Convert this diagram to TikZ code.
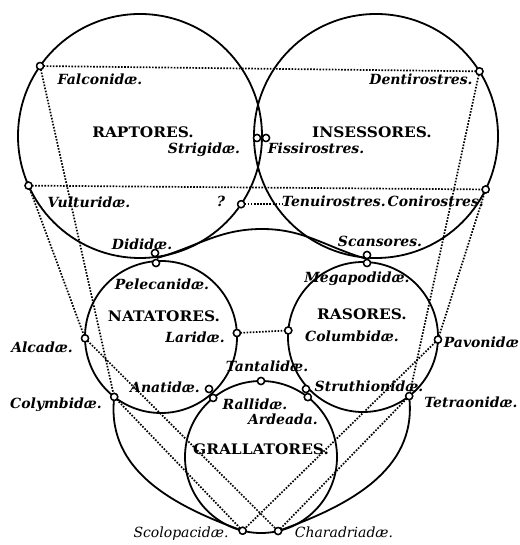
\documentclass[tikz,border=0pt]{standalone}
\usepackage{fontspec}
\setmainfont{DejaVu Serif}
\newfontfamily\capfont[FakeStretch=1.06]{DejaVu Serif}
\begin{document}
\begin{tikzpicture}[x=1pt,y=1pt,
  bigc/.style={draw, circle, line width=1.8pt, inner sep=0pt, outer sep=0pt},
  pt/.style={draw, circle, fill=white, line width=1.4pt, minimum size=7pt, inner sep=0pt, outer sep=0pt},
  lab/.style={font=\fontsize{14}{14}\selectfont\bfseries\itshape, inner sep=0pt, anchor=base},
  labl/.style={font=\fontsize{14}{14}\selectfont\itshape, inner sep=0pt, anchor=base},
  capl/.style={font=\fontsize{14.5}{14.5}\capfont\bfseries, inner sep=0pt, anchor=base},
  sline/.style={line width=1.8pt},
  dline/.style={line width=1.7pt, dash pattern=on 1.6pt off 1.5pt}]
\useasboundingbox (0,0) rectangle (519,545);
% big circles
\node[bigc, minimum size=244pt] (raptores) at (140,409) {};
\node[bigc, minimum size=244pt] (insessores) at (376,409) {};
\node[bigc, minimum size=152pt] (natatores) at (161,208) {};
\node[bigc, minimum size=150pt] (rasores) at (363,208) {};
\node[bigc, minimum size=152pt] (grallatores) at (261,88) {};
% point positions
\coordinate (archL) at (157,287);
\coordinate (archtop) at (262,316);
\coordinate (archR) at (367,286);
\coordinate (pFalc) at (raptores.145.5);
\coordinate (pVult) at (raptores.204.6);
\coordinate (pQ) at (raptores.-34);
\coordinate (pDent) at (insessores.32.4);
\coordinate (pConi) at (insessores.-26.2);
\coordinate (pAlca) at (natatores.181.5);
\coordinate (pLari) at (natatores.3.8);
\coordinate (pColy) at (natatores.232.3);
\coordinate (pColu) at (rasores.175.4);
\coordinate (pPavo) at (rasores.-2.3);
\coordinate (pTetr) at (rasores.-52.5);
\coordinate (pTant) at (grallatores.90);
\coordinate (pRall) at (grallatores.129);
\coordinate (pStrL) at (grallatores.52.5);
\coordinate (pScol) at (grallatores.256.5);
\coordinate (pChar) at (grallatores.283.7);
% small circles
\node[pt] (falconidae) at (pFalc) {};
\node[pt] (vulturidae) at (pVult) {};
\node[pt] (qpt) at (pQ) {};
\node[pt] (strigidae) at (257,407) {};
\node[pt] (fissirostres) at (266,407) {};
\node[pt] (dentirostres) at (pDent) {};
\node[pt] (conirostres) at (pConi) {};
\node[pt] (dididae) at (155,292) {};
\node[pt] (pelecanidae) at (156,282) {};
\node[pt] (scansores) at (367,290) {};
\node[pt] (megapodidae) at (367,282) {};
\node[pt] (alcadae) at (pAlca) {};
\node[pt] (laridae) at (pLari) {};
\node[pt] (colymbidae) at (pColy) {};
\node[pt] (anatidae) at (209,156) {};
\node[pt] (columbidae) at (pColu) {};
\node[pt] (pavonidae) at (pPavo) {};
\node[pt] (struthionidae) at (306,156) {};
\node[pt] (tetraonidae) at (pTetr) {};
\node[pt] (tantalidae) at (pTant) {};
\node[pt] (rallidae) at (pRall) {};
\node[pt] (struthlow) at (pStrL) {};
\node[pt] (scolopacidae) at (pScol) {};
\node[pt] (charadriadae) at (pChar) {};
% labels
\node[lab] (lFalc) at (100,460) {Falconidæ.};
\node[capl] (lRapt) at (143,407) {RAPTORES.};
\node[lab] (lStri) at (204,391) {Strigidæ.};
\node[lab] (lDent) at (421,460) {Dentirostres.};
\node[capl] (lInse) at (372,407) {INSESSORES.};
\node[lab] (lFiss) at (316,391) {Fissirostres.};
\node[lab] (lVult) at (89,337) {Vulturidæ.};
\node[lab] (lQ) at (221,338) {?};
\node[lab, anchor=base west] (lTenu) at (282,338) {Tenuirostres.};
\node[lab, anchor=base east] (lConi) at (484,338) {Conirostres.};
\node[lab] (lDidi) at (142,295) {Dididæ.};
\node[lab] (lScan) at (380,298) {Scansores.};
\node[lab] (lPele) at (162,255) {Pelecanidæ.};
\node[capl] (lNata) at (164,223) {NATATORES.};
\node[lab] (lLari) at (195,202) {Laridæ.};
\node[lab] (lMega) at (357,262) {Megapodidæ.};
\node[capl] (lRaso) at (362,225) {RASORES.};
\node[lab] (lColu) at (352,203) {Columbidæ.};
\node[lab, anchor=base east] (lPavo) at (519,197) {Pavonidæ};
\node[lab] (lAlca) at (42,192) {Alcadæ.};
\node[lab] (lTant) at (267,173) {Tantalidæ.};
\node[lab] (lAnat) at (165,152) {Anatidæ.};
\node[lab] (lRall) at (255,135) {Rallidæ.};
\node[lab] (lArde) at (283,120) {Ardeada.};
\node[lab] (lStru) at (369,153) {Struthionidæ.};
\node[lab] (lColy) at (56,136) {Colymbidæ.};
\node[lab] (lTetr) at (471,137) {Tetraonidæ.};
\node[capl] (lGral) at (261,90) {GRALLATORES.};
\node[labl] (lScol) at (181,7) {Scolopacidæ.};
\node[labl] (lChar) at (344,7) {Charadriadæ.};
% solid connectors
\draw[sline] (archL) to[out=16,in=180] (archtop) to[out=0,in=164] (archR);
\draw[sline] (colymbidae) to[out=-95,in=160] (scolopacidae);
\draw[sline] (tetraonidae) to[out=-85,in=20] (charadriadae);
% dotted connectors
\draw[dline] (falconidae) -- (dentirostres);
\draw[dline] (vulturidae) -- (conirostres);
\draw[dline] (qpt) -- (qpt -| lTenu.west);
\draw[dline] (falconidae) -- (colymbidae);
\draw[dline] (vulturidae) -- (alcadae);
\draw[dline] (dentirostres) -- (tetraonidae);
\draw[dline] (conirostres) -- (pavonidae);
\draw[dline] (alcadae) -- (charadriadae);
\draw[dline] (colymbidae) -- (scolopacidae);
\draw[dline] (pavonidae) -- (scolopacidae);
\draw[dline] (tetraonidae) -- (charadriadae);
\draw[dline] (laridae) -- (columbidae);
% redraw small circles on top
\foreach \n in {falconidae,vulturidae,qpt,strigidae,fissirostres,dentirostres,conirostres,dididae,pelecanidae,scansores,megapodidae,alcadae,laridae,colymbidae,anatidae,columbidae,pavonidae,struthionidae,tetraonidae,tantalidae,rallidae,struthlow,scolopacidae,charadriadae}
  \draw[line width=1.4pt, fill=white] (\n.center) circle (3.5pt);
\end{tikzpicture}
\end{document}
